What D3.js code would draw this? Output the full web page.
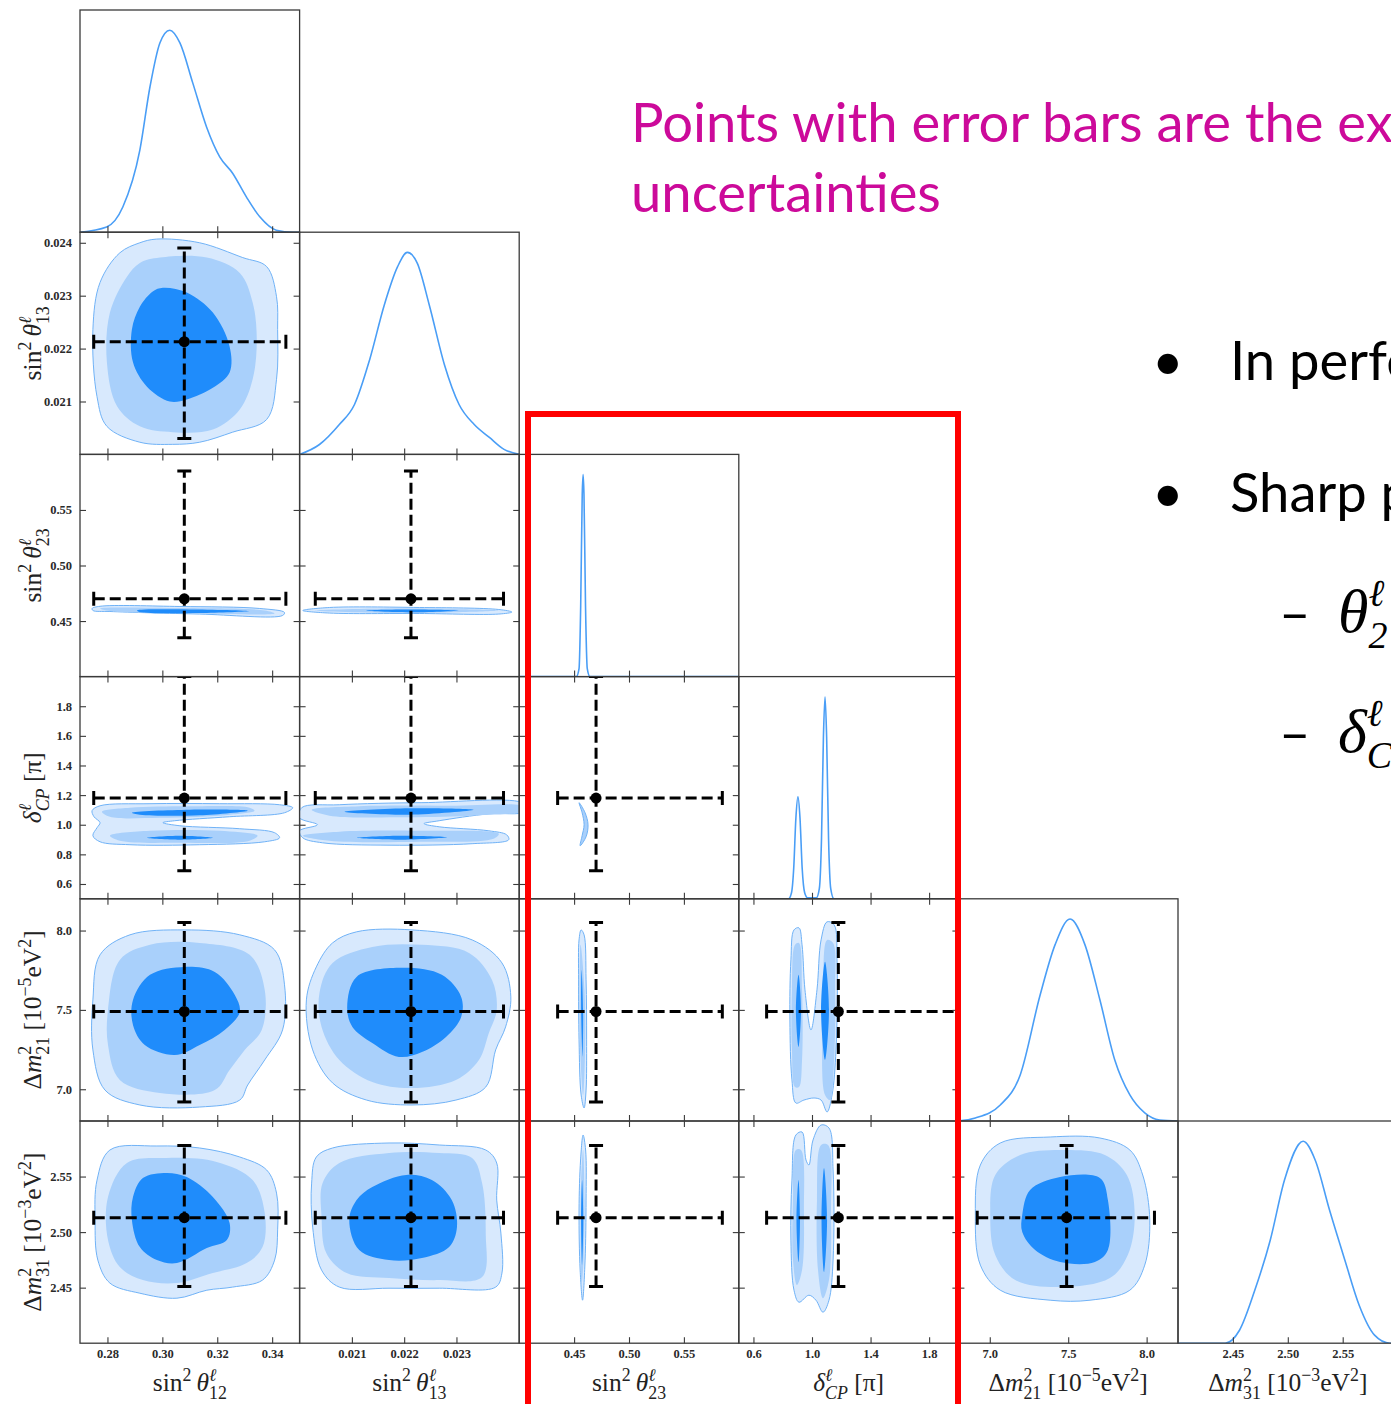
<!DOCTYPE html>
<html><head><meta charset="utf-8">
<script src="https://cdnjs.cloudflare.com/ajax/libs/d3/7.8.5/d3.min.js"></script>
<style>body{margin:0;background:#fff;overflow:hidden}svg{display:block}</style>
</head><body><svg id="c" width="1391" height="1404"></svg>
<script>
// ---------------- DATA ----------------
const varNames = ["s12","s13","s23","dcp","dm21","dm31"];
const varDomains = [[0.270,0.350],[0.0200,0.0242],[0.40,0.60],[0.5,2.0],[6.8,8.2],[2.40,2.60]];
const xTicks = [[0.28,0.30,0.32,0.34],[0.021,0.022,0.023],[0.45,0.50,0.55],[0.6,1.0,1.4,1.8],[7.0,7.5,8.0],[2.45,2.50,2.55]];
const yTicks = [[],[0.021,0.022,0.023,0.024],[0.45,0.50,0.55],[0.6,0.8,1.0,1.2,1.4,1.6,1.8],[7.0,7.5,8.0],[2.45,2.50,2.55]];
const tickFormats = [".2f",".3f",".2f",".1f",".1f",".2f"];

// experimental points (best fit) and error-bar ranges
const bestFit = [0.308, 0.02213, 0.470, 1.18, 7.49, 2.513];
const errLow  = [0.275, 0.0203, 0.435, 0.69, 6.92, 2.451];
const errHigh = [0.345, 0.0239, 0.585, 2.0, 8.05, 2.578];

// 1D marginal densities (relative)
const dens_s12 = [[0.270,0],[0.2797,0.026],[0.2856,0.125],[0.2918,0.406],[0.2955,0.72],[0.2991,0.937],[0.3027,1.0],[0.3064,0.937],[0.3111,0.738],[0.3161,0.521],[0.3209,0.373],[0.3256,0.292],[0.3306,0.175],[0.3355,0.076],[0.3415,0.010],[0.3475,0],[0.350,0]];
const dens_s13 = [[0.0200,0],[0.02038,0.049],[0.02076,0.148],[0.02105,0.247],[0.02134,0.469],[0.02162,0.74],[0.02187,0.927],[0.02206,1.0],[0.02225,0.947],[0.02248,0.74],[0.02277,0.444],[0.02305,0.247],[0.02334,0.148],[0.02363,0.084],[0.02391,0.025],[0.0242,0]];
const dens_s23 = [[0.40,0],[0.452,0],[0.4545,0.04],[0.456,0.35],[0.4574,0.9],[0.4582,1.0],[0.459,0.9],[0.4604,0.35],[0.462,0.04],[0.4645,0],[0.60,0]];
const dens_dcp = [[0.5,0],[0.84,0],[0.86,0.03],[0.875,0.15],[0.89,0.4],[0.904,0.505],[0.918,0.4],[0.933,0.15],[0.95,0.03],[0.97,0.005],[1.03,0.005],[1.05,0.05],[1.065,0.3],[1.078,0.8],[1.089,1.0],[1.1,0.8],[1.113,0.3],[1.128,0.05],[1.15,0],[2.0,0]];
const dens_dm21 = [[6.8,0],[6.908,0.015],[7.067,0.079],[7.194,0.228],[7.321,0.624],[7.416,0.872],[7.512,1.0],[7.607,0.872],[7.702,0.600],[7.797,0.302],[7.893,0.129],[7.988,0.040],[8.083,0.005],[8.2,0]];
const dens_dm31 = [[2.40,0],[2.443,0],[2.456,0.064],[2.470,0.263],[2.484,0.510],[2.497,0.808],[2.514,1.0],[2.525,0.906],[2.538,0.659],[2.552,0.411],[2.565,0.188],[2.579,0.040],[2.593,0],[2.60,0]];

// 2D credible-region outlines (data units), levels: outer / mid / inner
const cont_1_0 = {
 outer:[[[0.2979,0.02407],[0.3136,0.02400],[0.3293,0.02372],[0.3380,0.02355],[0.3416,0.02298],[0.3420,0.02236],[0.3416,0.02142],[0.3380,0.02066],[0.3256,0.02042],[0.3136,0.02023],[0.3038,0.02019],[0.2918,0.02023],[0.2798,0.02053],[0.2762,0.02109],[0.2747,0.02236],[0.2773,0.02325],[0.2845,0.02381],[0.2918,0.02400]]],
 mid:[[[0.2991,0.02372],[0.3162,0.02372],[0.3282,0.02343],[0.3329,0.02287],[0.3344,0.02217],[0.3329,0.02142],[0.3282,0.02085],[0.3184,0.02047],[0.3038,0.02042],[0.2918,0.02053],[0.2835,0.02091],[0.2798,0.02174],[0.2809,0.02268],[0.2871,0.02336],[0.2918,0.02362]]],
 inner:[[[0.3002,0.02315],[0.3089,0.02306],[0.3184,0.02268],[0.3245,0.02204],[0.3245,0.02155],[0.3184,0.02126],[0.3089,0.02104],[0.3027,0.02100],[0.2944,0.02128],[0.2893,0.02174],[0.2889,0.02236],[0.2918,0.02279],[0.2965,0.02308]]]
};
const cont_2_0 = {
 outer:[[[0.2744,0.4613],[0.2773,0.4633],[0.3064,0.4631],[0.3355,0.4613],[0.3445,0.4577],[0.3438,0.4550],[0.3136,0.4563],[0.2809,0.4586],[0.2747,0.4595]]],
 mid:[[[0.2773,0.4613],[0.3064,0.4617],[0.3373,0.4595],[0.3409,0.4568],[0.3136,0.4568],[0.2809,0.4590]]],
 inner:[[[0.2907,0.4595],[0.3100,0.4605],[0.3318,0.4590],[0.3136,0.4572],[0.2918,0.4581]]]
};
const cont_2_1 = {
 outer:[[[0.02006,0.4595],[0.02057,0.4622],[0.02229,0.4622],[0.02381,0.4604],[0.02406,0.4581],[0.02381,0.4563],[0.02229,0.4568],[0.02057,0.4572]]],
 mid:[[[0.02029,0.4595],[0.02190,0.4613],[0.02381,0.4595],[0.02190,0.4572]]],
 inner:[[[0.02124,0.4595],[0.02210,0.4605],[0.02305,0.4595],[0.02210,0.4578]]]
};
const cont_3_0 = {
 outer:[[[0.2773,1.128],[0.2955,1.142],[0.3209,1.142],[0.3427,1.135],[0.3475,1.115],[0.3445,1.081],[0.3245,1.054],[0.3045,1.027],[0.3002,1.014],[0.3064,0.993],[0.3282,0.973],[0.3409,0.946],[0.3427,0.912],[0.3373,0.885],[0.3136,0.865],[0.2882,0.865],[0.2773,0.885],[0.2747,0.926],[0.2762,0.980],[0.2773,1.014],[0.2751,1.054],[0.2744,1.095]]],
 mid:[[[0.2780,1.088],[0.2882,1.115],[0.3136,1.125],[0.3318,1.115],[0.3336,1.095],[0.3245,1.068],[0.2991,1.047],[0.2809,1.054]],
      [[0.2809,0.926],[0.2955,0.959],[0.3209,0.959],[0.3347,0.926],[0.3318,0.892],[0.3064,0.878],[0.2845,0.892]]],
 inner:[[[0.2889,1.081],[0.3100,1.101],[0.3311,1.095],[0.3136,1.064],[0.2918,1.068]],
        [[0.2944,0.912],[0.3064,0.926],[0.3184,0.912],[0.3064,0.899]]]
};
const cont_3_1 = {
 outer:[[[0.02004,1.115],[0.02076,1.135],[0.02234,1.149],[0.02429,1.142],[0.02429,1.088],[0.02362,1.074],[0.02267,1.027],[0.02238,1.007],[0.02267,0.986],[0.02362,0.959],[0.02396,0.932],[0.02400,0.899],[0.02330,0.872],[0.02171,0.862],[0.02044,0.878],[0.02006,0.912],[0.02000,0.959],[0.02034,1.000],[0.02000,1.047]]],
 mid:[[[0.02023,1.101],[0.02114,1.125],[0.02286,1.128],[0.02429,1.122],[0.02429,1.095],[0.02324,1.061],[0.02190,1.051],[0.02057,1.061]],
      [[0.02006,0.926],[0.02076,0.953],[0.02229,0.959],[0.02381,0.939],[0.02371,0.905],[0.02229,0.885],[0.02057,0.892]]],
 inner:[[[0.02086,1.088],[0.02210,1.111],[0.02333,1.101],[0.02210,1.068]],
        [[0.02110,0.912],[0.02190,0.926],[0.02282,0.916],[0.02190,0.899]]]
};
const cont_3_2 = {
 outer:[],
 mid:[[[0.4545,1.149],[0.4600,1.081],[0.4627,1.000],[0.4609,0.919],[0.4555,0.858],[0.4573,0.926],[0.4591,1.000],[0.4573,1.081]]],
 inner:[]
};
const cont_4_0 = {
 outer:[[[0.2747,7.563],[0.2773,7.847],[0.2882,7.973],[0.3082,8.004],[0.3282,7.973],[0.3409,7.878],[0.3445,7.658],[0.3438,7.374],[0.3373,7.185],[0.3311,7.027],[0.3282,6.932],[0.3136,6.888],[0.2918,6.901],[0.2791,6.995],[0.2747,7.248]]],
 mid:[[[0.2802,7.500],[0.2845,7.815],[0.2955,7.910],[0.3136,7.922],[0.3318,7.847],[0.3373,7.626],[0.3362,7.374],[0.3300,7.248],[0.3245,7.122],[0.3191,6.995],[0.2991,6.977],[0.2845,7.059],[0.2802,7.279]]],
 inner:[[[0.2893,7.563],[0.2955,7.721],[0.3082,7.771],[0.3191,7.739],[0.3264,7.594],[0.3282,7.487],[0.3227,7.374],[0.3136,7.279],[0.3045,7.216],[0.2936,7.279],[0.2893,7.405]]]
};
const cont_4_1 = {
 outer:[[[0.02109,7.992],[0.02215,8.004],[0.02330,7.941],[0.02387,7.796],[0.02404,7.582],[0.02394,7.393],[0.02375,7.248],[0.02356,7.014],[0.02299,6.932],[0.02215,6.901],[0.02128,6.932],[0.02063,7.040],[0.02025,7.248],[0.02013,7.563],[0.02032,7.771],[0.02063,7.922]]],
 mid:[[[0.02139,7.897],[0.02234,7.910],[0.02324,7.859],[0.02368,7.689],[0.02377,7.500],[0.02362,7.355],[0.02343,7.185],[0.02299,7.059],[0.02215,7.008],[0.02139,7.046],[0.02076,7.185],[0.02042,7.393],[0.02038,7.607],[0.02063,7.796]]],
 inner:[[[0.02109,7.708],[0.02196,7.765],[0.02272,7.721],[0.02309,7.582],[0.02309,7.456],[0.02280,7.330],[0.02234,7.235],[0.02190,7.204],[0.02139,7.292],[0.02101,7.393],[0.02091,7.519]]]
};
const cont_4_2 = {
 outer:[[[0.4564,8.004],[0.4591,7.973],[0.4609,7.689],[0.4614,7.311],[0.4609,6.995],[0.4591,6.882],[0.4564,6.964],[0.4545,7.311],[0.4541,7.689],[0.4545,7.941]]],
 mid:[[[0.4559,7.910],[0.4595,7.626],[0.4600,7.248],[0.4582,6.964],[0.4555,7.248],[0.4550,7.626]]],
 inner:[[[0.4568,7.752],[0.4582,7.500],[0.4577,7.204],[0.4564,7.500]]]
};
const cont_4_3 = {
 outer:[[[0.856,7.815],[0.877,8.004],[0.911,8.017],[0.932,7.910],[0.952,7.626],[0.993,7.374],[1.034,7.626],[1.062,7.941],[1.103,8.055],[1.151,8.036],[1.171,7.815],[1.164,7.248],[1.137,6.964],[1.103,6.857],[1.062,6.932],[1.014,6.945],[0.945,6.932],[0.890,6.913],[0.863,7.059],[0.849,7.437]]],
 mid:[[[0.863,7.626],[0.884,7.910],[0.911,7.922],[0.932,7.626],[0.932,7.185],[0.911,7.014],[0.884,7.014],[0.863,7.248]],
      [[1.075,7.689],[1.103,7.941],[1.144,7.922],[1.158,7.626],[1.151,7.185],[1.123,6.932],[1.089,6.964],[1.068,7.311]]],
 inner:[[[0.890,7.500],[0.908,7.721],[0.925,7.500],[0.908,7.267]],
        [[1.062,7.500],[1.089,7.803],[1.116,7.500],[1.089,7.185]]]
};
const cont_5_0 = {
 outer:[[[0.2809,2.5739],[0.2980,2.5775],[0.3136,2.5757],[0.3282,2.5676],[0.3380,2.5559],[0.3416,2.5351],[0.3420,2.5020],[0.3409,2.4748],[0.3365,2.4568],[0.3256,2.4505],[0.3162,2.4477],[0.3053,2.4405],[0.2918,2.4450],[0.2809,2.4541],[0.2765,2.4748],[0.2755,2.5110],[0.2762,2.5468]]],
 mid:[[[0.2871,2.5622],[0.3016,2.5667],[0.3198,2.5631],[0.3329,2.5468],[0.3373,2.5171],[0.3365,2.4865],[0.3307,2.4721],[0.3184,2.4631],[0.3053,2.4541],[0.2929,2.4568],[0.2845,2.4685],[0.2802,2.4928],[0.2802,2.5315]]],
 inner:[[[0.2929,2.5486],[0.3016,2.5532],[0.3089,2.5495],[0.3184,2.5315],[0.3245,2.5081],[0.3235,2.4928],[0.3162,2.4856],[0.3053,2.4721],[0.2980,2.4748],[0.2918,2.4865],[0.2889,2.5110],[0.2893,2.5315]]]
};
const cont_5_1 = {
 outer:[[[0.02063,2.5757],[0.02171,2.5802],[0.02267,2.5784],[0.02356,2.5739],[0.02377,2.5622],[0.02377,2.5288],[0.02385,2.4991],[0.02387,2.4631],[0.02375,2.4505],[0.02267,2.4495],[0.02171,2.4495],[0.02076,2.4505],[0.02042,2.4658],[0.02025,2.5045],[0.02023,2.5441],[0.02032,2.5676]]],
 mid:[[[0.02076,2.5622],[0.02171,2.5712],[0.02267,2.5712],[0.02330,2.5667],[0.02349,2.5441],[0.02356,2.4991],[0.02349,2.4595],[0.02267,2.4568],[0.02171,2.4586],[0.02090,2.4631],[0.02051,2.4811],[0.02042,2.5135],[0.02044,2.5441]]],
 inner:[[[0.02139,2.5405],[0.02204,2.5514],[0.02253,2.5468],[0.02291,2.5288],[0.02301,2.5045],[0.02286,2.4865],[0.02234,2.4766],[0.02171,2.4748],[0.02114,2.4838],[0.02095,2.5110],[0.02109,2.5288]]]
};
const cont_5_2 = {
 outer:[[[0.4582,2.5874],[0.4605,2.5739],[0.4609,2.5288],[0.4600,2.4748],[0.4577,2.4387],[0.4555,2.4658],[0.4545,2.5198],[0.4559,2.5649]]],
 mid:[[[0.4582,2.5739],[0.4595,2.5288],[0.4586,2.4748],[0.4568,2.4523],[0.4559,2.4928],[0.4564,2.5468]]],
 inner:[[[0.4573,2.5468],[0.4584,2.5108],[0.4573,2.4703],[0.4564,2.5108]]]
};
const cont_5_3 = {
 outer:[[[0.863,2.5468],[0.890,2.5874],[0.932,2.5901],[0.959,2.5649],[0.979,2.5604],[1.007,2.5829],[1.062,2.5964],[1.116,2.5937],[1.144,2.5559],[1.144,2.4748],[1.116,2.4387],[1.075,2.4279],[1.027,2.4387],[0.979,2.4432],[0.911,2.4369],[0.877,2.4477],[0.856,2.4928]]],
 mid:[[[0.870,2.5288],[0.890,2.5739],[0.925,2.5739],[0.945,2.5198],[0.932,2.4658],[0.897,2.4523],[0.870,2.4748]],
      [[1.034,2.5288],[1.062,2.5784],[1.110,2.5784],[1.130,2.5198],[1.116,2.4568],[1.075,2.4405],[1.041,2.4658]]],
 inner:[[[0.894,2.5108],[0.908,2.5468],[0.918,2.5108],[0.908,2.4730]],
        [[1.065,2.5108],[1.082,2.5577],[1.103,2.5108],[1.082,2.4640]]]
};
const cont_5_4 = {
 outer:[[[6.908,2.5153],[6.940,2.5604],[7.067,2.5802],[7.385,2.5856],[7.702,2.5847],[7.893,2.5739],[7.975,2.5514],[8.020,2.5108],[7.988,2.4703],[7.893,2.4477],[7.639,2.4387],[7.385,2.4387],[7.067,2.4477],[6.940,2.4703]]],
 mid:[[[7.003,2.5153],[7.035,2.5514],[7.194,2.5694],[7.480,2.5739],[7.734,2.5694],[7.874,2.5514],[7.924,2.5153],[7.880,2.4793],[7.766,2.4586],[7.448,2.4505],[7.162,2.4568],[7.035,2.4793]]],
 inner:[[[7.207,2.5153],[7.257,2.5378],[7.448,2.5495],[7.702,2.5486],[7.753,2.5288],[7.753,2.4838],[7.670,2.4730],[7.448,2.4730],[7.289,2.4838],[7.207,2.5000]]]
};

// Slide text
const titleLines = ["Points with error bars are the ex", "uncertainties"];
const bulletLines = ["In perfe", "Sharp p"];

// ---------------- DRAW ----------------
const densities = [dens_s12, dens_s13, dens_s23, dens_dcp, dens_dm21, dens_dm31];
const contours = {"1_0":cont_1_0,"2_0":cont_2_0,"2_1":cont_2_1,"3_0":cont_3_0,"3_1":cont_3_1,"3_2":cont_3_2,
  "4_0":cont_4_0,"4_1":cont_4_1,"4_2":cont_4_2,"4_3":cont_4_3,"5_0":cont_5_0,"5_1":cont_5_1,"5_2":cont_5_2,"5_3":cont_5_3,"5_4":cont_5_4};

const svg = d3.select('#c');
const L = 80, T = 10, CW = 219.6, RH = 222.2, N = 6;
const colX = i => L + i*CW, rowY = i => T + i*RH;
const xs = varDomains.map((d,i)=>d3.scaleLinear().domain(d).range([colX(i), colX(i)+CW]));
const ys = varDomains.map((d,i)=>d3.scaleLinear().domain(d).range([rowY(i)+RH, rowY(i)]));
const serif = "'Liberation Serif','DejaVu Serif',serif";
const C_OUT="#d8e9fd", C_MID="#a9d0fb", C_IN="#1f8cfb", C_LINE="#70b2f6", C_1D="#4a9ef6";
const AX="#3a3a3a";

const defs = svg.append('defs');

function styleAxis(g){
  g.select('.domain').remove();
  g.selectAll('.tick line').attr('stroke',AX).attr('stroke-width',1.1);
  g.selectAll('.tick text').attr('font-family',serif).attr('font-size',12.5).attr('font-weight','bold').attr('fill','#2a2a2a');
}

for(let r=0;r<N;r++){
  for(let c=0;c<=r;c++){
    const x0=colX(c), y0=rowY(r);
    const id=`clip${r}${c}`;
    defs.append('clipPath').attr('id',id).append('rect').attr('x',x0).attr('y',y0).attr('width',CW).attr('height',RH);
    const g = svg.append('g');
    const pg = g.append('g').attr('clip-path',`url(#${id})`);
    const xsc = xs[c];
    if(r===c){
      const yd = d3.scaleLinear().domain([0,1.1]).range([y0+RH,y0]);
      pg.append('path').datum(densities[c])
        .attr('d', d3.line().x(d=>xsc(d[0])).y(d=>yd(d[1])).curve(d3.curveMonotoneX))
        .attr('fill','none').attr('stroke',C_1D).attr('stroke-width',1.6);
    } else {
      const ysc = ys[r];
      const cont = contours[`${r}_${c}`];
      const line = d3.line().x(d=>xsc(d[0])).y(d=>ysc(d[1])).curve(d3.curveCatmullRomClosed.alpha(0.5));
      pg.selectAll('path.o').data(cont.outer).join('path').attr('d',line).attr('fill',C_OUT).attr('stroke',C_LINE).attr('stroke-width',1);
      pg.selectAll('path.m').data(cont.mid).join('path').attr('d',line).attr('fill',C_MID)
        .attr('stroke', cont.outer.length?'none':C_LINE).attr('stroke-width',1);
      pg.selectAll('path.i').data(cont.inner).join('path').attr('d',line).attr('fill',C_IN);
      // error bars
      const bx = xsc(bestFit[c]), by = ysc(bestFit[r]);
      const hx1 = xsc(errLow[c]), hx2 = xsc(errHigh[c]);
      const vy1 = ysc(errLow[r]), vy2 = ysc(errHigh[r]);
      const eb = pg.append('g').attr('stroke','#000').attr('stroke-width',3);
      eb.append('line').attr('x1',hx1).attr('x2',hx2).attr('y1',by).attr('y2',by).attr('stroke-dasharray','11,5');
      eb.append('line').attr('x1',bx).attr('x2',bx).attr('y1',vy1).attr('y2',vy2).attr('stroke-dasharray','11,5');
      const cap=7;
      [hx1,hx2].forEach(x=>eb.append('line').attr('x1',x).attr('x2',x).attr('y1',by-cap).attr('y2',by+cap));
      [vy1,vy2].forEach(y=>eb.append('line').attr('x1',bx-cap).attr('x2',bx+cap).attr('y1',y).attr('y2',y));
      pg.append('circle').attr('cx',bx).attr('cy',by).attr('r',5.5).attr('fill','#000');
    }
    // frame
    g.append('rect').attr('x',x0).attr('y',y0).attr('width',CW).attr('height',RH)
      .attr('fill','none').attr('stroke',AX).attr('stroke-width',1.3);
    // axes
    const bottom = d3.axisBottom(xsc).tickValues(xTicks[c]).tickSize(-6).tickPadding(6)
      .tickFormat(r===N-1 ? d3.format(tickFormats[c]) : ()=>'');
    g.append('g').attr('transform',`translate(0,${y0+RH})`).call(bottom).call(styleAxis);
    if(r!==c){
      const ysc = ys[r];
      g.append('g').attr('transform',`translate(0,${y0})`)
        .call(d3.axisTop(xsc).tickValues(xTicks[c]).tickSize(-6).tickFormat(()=>'')).call(styleAxis);
      g.append('g').attr('transform',`translate(${x0},0)`)
        .call(d3.axisLeft(ysc).tickValues(yTicks[r]).tickSize(-6).tickPadding(8)
          .tickFormat(c===0 ? d3.format(tickFormats[r]) : ()=>'')).call(styleAxis);
      g.append('g').attr('transform',`translate(${x0+CW},0)`)
        .call(d3.axisRight(ysc).tickValues(yTicks[r]).tickSize(-6).tickFormat(()=>'')).call(styleAxis);
    }
  }
}

// math labels
function mathLabel(parent, segs, size){
  const t = parent.append('text').attr('text-anchor','middle').attr('font-family',serif)
    .attr('font-size',size).attr('fill','#222');
  let cur=0, lastW=0;
  segs.forEach(s=>{
    const k = s.k||'b';
    const off = k==='sup' ? -0.40*size : k==='sub' ? 0.30*size : 0;
    const fs = k==='b' ? size : 0.7*size;
    const ts = t.append('tspan').text(s.t).attr('font-size',fs).attr('dy',off-cur);
    if(s.i) ts.attr('font-style','italic');
    if(s.stack) ts.attr('dx',-lastW);
    cur = off;
    lastW = ts.node().getComputedTextLength();
  });
  return t;
}
const labelSegs = [
  [{t:'sin'},{t:'2',k:'sup'},{t:'\u2009θ',i:true},{t:'ℓ',k:'sup',i:true},{t:'12',k:'sub',stack:true}],
  [{t:'sin'},{t:'2',k:'sup'},{t:'\u2009θ',i:true},{t:'ℓ',k:'sup',i:true},{t:'13',k:'sub',stack:true}],
  [{t:'sin'},{t:'2',k:'sup'},{t:'\u2009θ',i:true},{t:'ℓ',k:'sup',i:true},{t:'23',k:'sub',stack:true}],
  [{t:'δ',i:true},{t:'ℓ',k:'sup',i:true},{t:'CP',k:'sub',i:true,stack:true},{t:' [π]'}],
  [{t:'Δ'},{t:'m',i:true},{t:'2',k:'sup'},{t:'21',k:'sub',stack:true},{t:' [10'},{t:'−5',k:'sup'},{t:'eV'},{t:'2',k:'sup'},{t:']'}],
  [{t:'Δ'},{t:'m',i:true},{t:'2',k:'sup'},{t:'31',k:'sub',stack:true},{t:' [10'},{t:'−3',k:'sup'},{t:'eV'},{t:'2',k:'sup'},{t:']'}]
];
for(let i=0;i<N;i++){
  const gx = svg.append('g').attr('transform',`translate(${colX(i)+CW/2},1391)`);
  mathLabel(gx, labelSegs[i], 25.5);
  if(i>0){
    const gy = svg.append('g').attr('transform',`translate(41,${rowY(i)+RH/2}) rotate(-90)`);
    mathLabel(gy, labelSegs[i], 25.5);
  }
}

// slide text
const sans = "Lato,'Open Sans','Noto Sans',sans-serif";
const probe = svg.append('text').attr('font-family',sans).attr('font-size',50).text(titleLines[1]);
const fs = 50*310/probe.node().getComputedTextLength();
probe.remove();
svg.append('text').attr('x',631).attr('y',142).attr('font-family',sans).attr('font-size',fs).attr('fill','#cc0a9a').text(titleLines[0]);
svg.append('text').attr('x',631).attr('y',212).attr('font-family',sans).attr('font-size',fs).attr('fill','#cc0a9a').text(titleLines[1]);
[[380,bulletLines[0]],[512,bulletLines[1]]].forEach(([y,t])=>{
  svg.append('text').attr('x',1152).attr('y',y).attr('font-family',sans).attr('font-size',fs).attr('fill','#000').text('•');
  svg.append('text').attr('x',1230).attr('y',y).attr('font-family',sans).attr('font-size',fs).attr('fill','#000').text(t);
});
function subItem(y, base, sup, sub){
  svg.append('text').attr('x',1279).attr('y',y).attr('font-family',sans).attr('font-size',fs).attr('fill','#000').text('–');
  const t = svg.append('text').attr('x',1338).attr('y',y).attr('font-family',serif).attr('font-size',62).attr('fill','#000').attr('font-style','italic');
  t.append('tspan').text(base);
  const s1 = t.append('tspan').text(sup).attr('font-size',38).attr('dy',-26);
  const w = s1.node().getComputedTextLength();
  t.append('tspan').text(sub).attr('font-size',38).attr('dx',-w).attr('dy',42);
}
subItem(632,'θ','ℓ','2');
subItem(752,'δ','ℓ','C');

// red highlight box
svg.append('rect').attr('x',528).attr('y',414).attr('width',430).attr('height',1100)
  .attr('fill','none').attr('stroke','#ff0000').attr('stroke-width',6);
</script></body></html>
